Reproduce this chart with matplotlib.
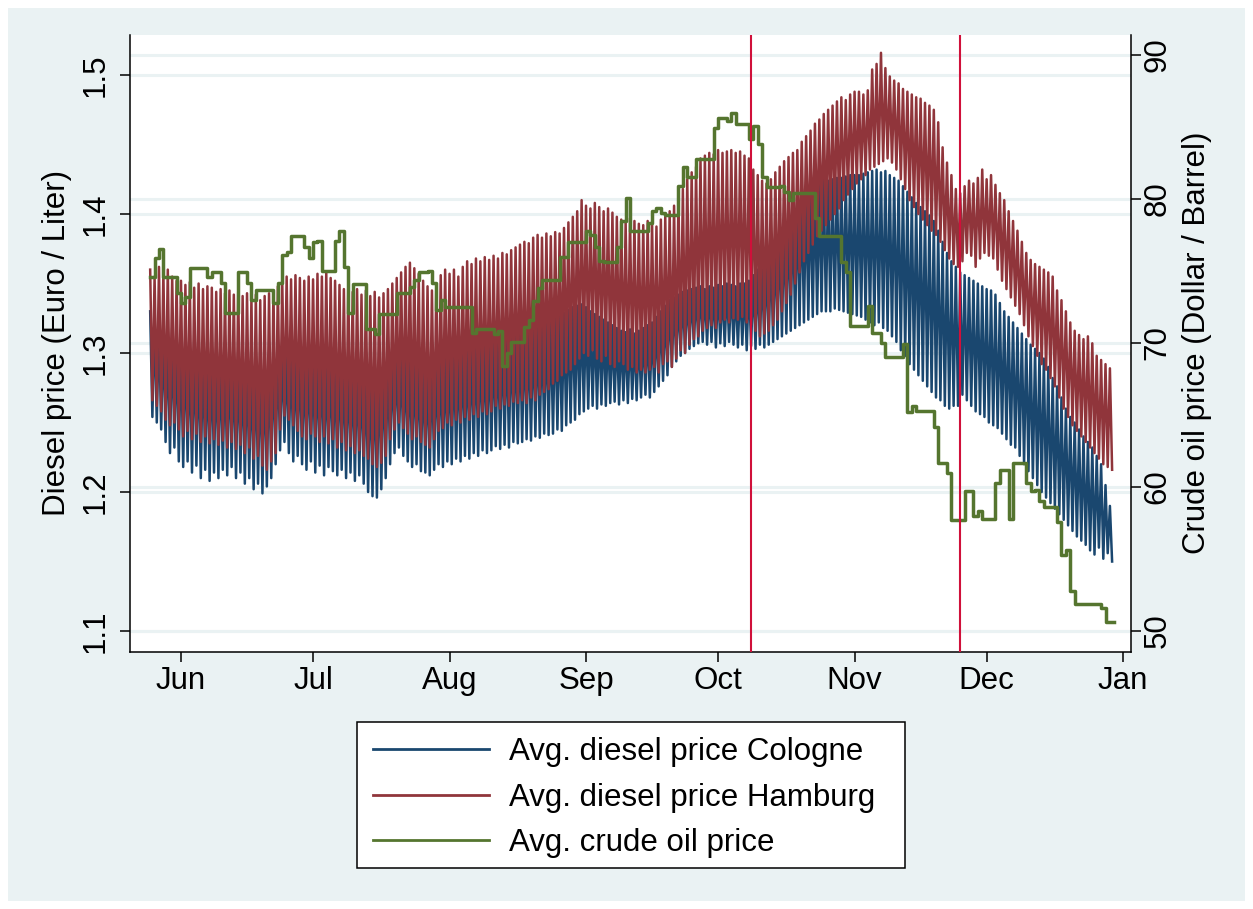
import numpy as np
import matplotlib
matplotlib.use("Agg")
import matplotlib.pyplot as plt
import matplotlib.dates as mdates
import matplotlib.transforms as mtransforms
from matplotlib.patches import Rectangle
from matplotlib.lines import Line2D

plt.rcParams['font.family'] = ['Liberation Sans', 'DejaVu Sans']

# one value per day, first day is 25 May 2018 (7 days per row)
first_day = np.datetime64('2018-05-25T00:00')

hamburg_high = [
    1.360, 1.355, 1.362, 1.358, 1.360, 1.355, 1.352,
    1.352, 1.349, 1.351, 1.347, 1.350, 1.346, 1.348,
    1.347, 1.344, 1.346, 1.343, 1.345, 1.342, 1.344,
    1.341, 1.343, 1.339, 1.342, 1.338, 1.341, 1.343,
    1.345, 1.348, 1.352, 1.355, 1.353, 1.356, 1.354,
    1.352, 1.355, 1.353, 1.357, 1.355, 1.358, 1.354,
    1.352, 1.349, 1.346, 1.348, 1.344, 1.346, 1.342,
    1.345, 1.341, 1.344, 1.340, 1.343, 1.346, 1.350,
    1.354, 1.358, 1.362, 1.365, 1.361, 1.357, 1.352,
    1.348, 1.345, 1.350, 1.356, 1.360, 1.357, 1.360,
    1.355, 1.362, 1.366, 1.364, 1.368, 1.366, 1.369,
    1.367, 1.370, 1.368, 1.372, 1.371, 1.374, 1.376,
    1.378, 1.380, 1.379, 1.383, 1.385, 1.383, 1.386,
    1.384, 1.387, 1.386, 1.390, 1.394, 1.398, 1.402,
    1.410, 1.406, 1.404, 1.408, 1.405, 1.402, 1.404,
    1.401, 1.398, 1.396, 1.394, 1.397, 1.395, 1.393,
    1.392, 1.395, 1.394, 1.391, 1.396, 1.398, 1.402,
    1.406, 1.412, 1.418, 1.425, 1.430, 1.434, 1.440,
    1.442, 1.444, 1.443, 1.446, 1.444, 1.445, 1.446,
    1.444, 1.445, 1.442, 1.440, 1.432, 1.428, 1.424,
    1.422, 1.425, 1.430, 1.434, 1.438, 1.441, 1.444,
    1.446, 1.452, 1.456, 1.460, 1.465, 1.468, 1.472,
    1.475, 1.478, 1.481, 1.484, 1.482, 1.486, 1.488,
    1.488, 1.486, 1.489, 1.504, 1.508, 1.516, 1.505,
    1.499, 1.496, 1.494, 1.490, 1.488, 1.486, 1.484,
    1.483, 1.480, 1.478, 1.475, 1.466, 1.448, 1.437,
    1.428, 1.418, 1.415, 1.420, 1.424, 1.422, 1.426,
    1.432, 1.425, 1.428, 1.421, 1.415, 1.410, 1.402,
    1.395, 1.388, 1.380, 1.372, 1.367, 1.364, 1.362,
    1.360, 1.358, 1.355, 1.345, 1.338, 1.330, 1.322,
    1.316, 1.313, 1.310, 1.312, 1.307, 1.298, 1.295,
    1.292, 1.289,
]
hamburg_low = [
    1.266, 1.262, 1.258, 1.252, 1.248, 1.250, 1.245,
    1.240, 1.244, 1.238, 1.242, 1.236, 1.240, 1.235,
    1.238, 1.234, 1.237, 1.232, 1.236, 1.231, 1.234,
    1.228, 1.232, 1.224, 1.226, 1.219, 1.216, 1.222,
    1.228, 1.245, 1.255, 1.252, 1.248, 1.244, 1.240,
    1.238, 1.242, 1.240, 1.236, 1.240, 1.235, 1.238,
    1.232, 1.236, 1.230, 1.233, 1.228, 1.230, 1.226,
    1.224, 1.220, 1.218, 1.221, 1.226, 1.238, 1.245,
    1.250, 1.246, 1.242, 1.238, 1.240, 1.236, 1.234,
    1.232, 1.238, 1.244, 1.246, 1.250, 1.248, 1.252,
    1.250, 1.254, 1.252, 1.256, 1.254, 1.258, 1.256,
    1.258, 1.262, 1.260, 1.263, 1.262, 1.265, 1.264,
    1.266, 1.264, 1.268, 1.266, 1.270, 1.272, 1.274,
    1.278, 1.280, 1.284, 1.286, 1.288, 1.292, 1.296,
    1.300, 1.298, 1.302, 1.296, 1.294, 1.298, 1.292,
    1.290, 1.294, 1.292, 1.288, 1.290, 1.286, 1.288,
    1.286, 1.288, 1.290, 1.286, 1.292, 1.294, 1.290,
    1.296, 1.302, 1.300, 1.306, 1.310, 1.312, 1.316,
    1.318, 1.320, 1.318, 1.322, 1.324, 1.322, 1.325,
    1.324, 1.326, 1.322, 1.320, 1.316, 1.312, 1.314,
    1.316, 1.320, 1.324, 1.330, 1.336, 1.342, 1.350,
    1.358, 1.366, 1.372, 1.378, 1.384, 1.388, 1.392,
    1.396, 1.400, 1.404, 1.410, 1.414, 1.418, 1.422,
    1.425, 1.428, 1.432, 1.434, 1.436, 1.438, 1.440,
    1.437, 1.432, 1.425, 1.418, 1.410, 1.405, 1.400,
    1.396, 1.392, 1.388, 1.385, 1.380, 1.374, 1.368,
    1.364, 1.362, 1.366, 1.372, 1.370, 1.362, 1.368,
    1.372, 1.370, 1.368, 1.360, 1.352, 1.346, 1.340,
    1.334, 1.328, 1.320, 1.312, 1.305, 1.298, 1.292,
    1.288, 1.282, 1.276, 1.268, 1.260, 1.254, 1.248,
    1.244, 1.240, 1.236, 1.232, 1.228, 1.224, 1.220,
    1.218, 1.216,
]
cologne_high = [
    1.330, 1.325, 1.322, 1.318, 1.315, 1.318, 1.312,
    1.310, 1.312, 1.306, 1.309, 1.304, 1.307, 1.303,
    1.305, 1.302, 1.304, 1.300, 1.303, 1.299, 1.301,
    1.298, 1.300, 1.296, 1.298, 1.294, 1.296, 1.299,
    1.302, 1.306, 1.308, 1.305, 1.307, 1.304, 1.306,
    1.303, 1.306, 1.304, 1.302, 1.305, 1.301, 1.303,
    1.300, 1.302, 1.298, 1.300, 1.296, 1.298, 1.295,
    1.293, 1.290, 1.292, 1.295, 1.298, 1.302, 1.305,
    1.306, 1.304, 1.302, 1.300, 1.301, 1.298, 1.297,
    1.296, 1.299, 1.302, 1.304, 1.306, 1.305, 1.308,
    1.307, 1.310, 1.309, 1.312, 1.311, 1.314, 1.313,
    1.314, 1.316, 1.315, 1.318, 1.317, 1.320, 1.319,
    1.320, 1.322, 1.321, 1.323, 1.325, 1.324, 1.326,
    1.325, 1.327, 1.326, 1.329, 1.331, 1.333, 1.334,
    1.335, 1.333, 1.330, 1.328, 1.326, 1.324, 1.322,
    1.320, 1.318, 1.316, 1.315, 1.317, 1.314, 1.316,
    1.318, 1.320, 1.322, 1.326, 1.330, 1.334, 1.338,
    1.340, 1.342, 1.344, 1.345, 1.346, 1.347, 1.348,
    1.346, 1.348, 1.347, 1.349, 1.348, 1.350, 1.349,
    1.348, 1.350, 1.350, 1.352, 1.356, 1.360, 1.366,
    1.372, 1.378, 1.385, 1.392, 1.398, 1.404, 1.410,
    1.415, 1.418, 1.420, 1.422, 1.423, 1.424, 1.425,
    1.424, 1.425, 1.426, 1.426, 1.427, 1.428, 1.428,
    1.428, 1.429, 1.430, 1.431, 1.432, 1.430, 1.431,
    1.428, 1.426, 1.424, 1.420, 1.416, 1.412, 1.408,
    1.405, 1.402, 1.399, 1.395, 1.388, 1.380, 1.372,
    1.366, 1.362, 1.358, 1.356, 1.354, 1.352, 1.350,
    1.348, 1.346, 1.345, 1.342, 1.336, 1.330, 1.326,
    1.322, 1.318, 1.314, 1.310, 1.306, 1.303, 1.300,
    1.296, 1.290, 1.282, 1.276, 1.268, 1.260, 1.254,
    1.250, 1.245, 1.240, 1.236, 1.232, 1.226, 1.220,
    1.205, 1.190,
]
cologne_low = [
    1.254, 1.250, 1.245, 1.236, 1.228, 1.232, 1.222,
    1.218, 1.222, 1.214, 1.219, 1.210, 1.216, 1.208,
    1.214, 1.210, 1.216, 1.212, 1.218, 1.210, 1.214,
    1.206, 1.210, 1.202, 1.206, 1.199, 1.204, 1.210,
    1.220, 1.230, 1.236, 1.228, 1.222, 1.226, 1.220,
    1.216, 1.222, 1.214, 1.219, 1.212, 1.218, 1.215,
    1.212, 1.216, 1.210, 1.214, 1.208, 1.212, 1.206,
    1.200, 1.197, 1.196, 1.202, 1.210, 1.220, 1.228,
    1.232, 1.226, 1.222, 1.218, 1.220, 1.215, 1.214,
    1.212, 1.216, 1.220, 1.218, 1.222, 1.220, 1.224,
    1.222, 1.226, 1.224, 1.228, 1.226, 1.230, 1.228,
    1.230, 1.233, 1.231, 1.234, 1.232, 1.236, 1.235,
    1.236, 1.238, 1.237, 1.240, 1.239, 1.242, 1.241,
    1.242, 1.245, 1.244, 1.248, 1.250, 1.252, 1.256,
    1.258, 1.260, 1.262, 1.260, 1.263, 1.262, 1.264,
    1.265, 1.263, 1.266, 1.264, 1.267, 1.266, 1.268,
    1.270, 1.268, 1.272, 1.276, 1.280, 1.284, 1.290,
    1.294, 1.298, 1.300, 1.303, 1.305, 1.307, 1.308,
    1.306, 1.308, 1.304, 1.307, 1.305, 1.308, 1.306,
    1.304, 1.306, 1.302, 1.305, 1.303, 1.306, 1.304,
    1.306, 1.308, 1.310, 1.312, 1.314, 1.316, 1.318,
    1.320, 1.322, 1.324, 1.326, 1.328, 1.330, 1.330,
    1.330, 1.332, 1.331, 1.330, 1.329, 1.328, 1.327,
    1.326, 1.324, 1.322, 1.320, 1.322, 1.318, 1.316,
    1.312, 1.308, 1.302, 1.298, 1.292, 1.288, 1.284,
    1.280, 1.276, 1.272, 1.268, 1.266, 1.262, 1.260,
    1.262, 1.262, 1.270, 1.266, 1.262, 1.258, 1.256,
    1.254, 1.250, 1.248, 1.246, 1.242, 1.238, 1.234,
    1.232, 1.226, 1.220, 1.215, 1.210, 1.205, 1.200,
    1.196, 1.192, 1.188, 1.184, 1.180, 1.176, 1.172,
    1.168, 1.165, 1.162, 1.158, 1.155, 1.160, 1.152,
    1.156, 1.150,
]
crude_oil = [
    74.6, 75.9, 76.5, 74.6, 74.6, 74.6, 73.5,
    72.8, 73.2, 75.2, 75.2, 75.2, 75.2, 74.6,
    74.9, 74.9, 74.2, 72.1, 72.1, 72.1, 74.9,
    74.9, 74.2, 73.0, 73.7, 73.7, 73.7, 73.7,
    72.8, 74.2, 76.1, 76.3, 77.4, 77.4, 77.4,
    76.7, 75.9, 77.0, 77.1, 75.0, 75.0, 75.0,
    77.1, 77.8, 75.3, 72.1, 74.1, 74.1, 74.1,
    71.0, 71.0, 70.6, 72.0, 72.0, 72.0, 72.0,
    73.5, 73.5, 73.5, 73.9, 74.4, 74.9, 74.9,
    75.0, 74.2, 72.3, 73.0, 72.5, 72.5, 72.5,
    72.5, 72.5, 72.5, 70.7, 71.0, 71.0, 71.0,
    71.0, 70.6, 70.8, 68.4, 69.3, 70.1, 70.1,
    70.1, 71.1, 71.6, 72.9, 73.8, 74.4, 74.4,
    74.4, 74.4, 76.0, 76.0, 77.0, 77.0, 77.0,
    77.0, 77.8, 77.5, 76.7, 75.7, 75.6, 75.6,
    75.6, 76.7, 78.5, 80.1, 77.8, 77.8, 77.8,
    77.8, 78.3, 79.2, 79.4, 79.0, 78.9, 78.9,
    78.9, 80.9, 82.2, 81.5, 81.5, 82.8, 82.8,
    82.8, 82.8, 84.9, 85.6, 85.6, 85.4, 86.0,
    85.2, 85.2, 85.2, 84.2, 85.1, 83.8, 81.5,
    80.8, 80.8, 80.8, 80.9, 80.5, 79.9, 80.4,
    80.4, 80.4, 80.4, 80.4, 78.7, 77.4, 77.4,
    77.4, 77.4, 77.4, 75.6, 74.9, 71.2, 71.2,
    71.2, 71.2, 72.6, 70.7, 70.7, 70.0, 69.0,
    69.0, 69.0, 69.0, 69.9, 65.2, 65.6, 65.3,
    65.3, 65.3, 65.3, 64.2, 61.7, 61.7, 61.0,
    57.7, 57.7, 57.7, 59.7, 59.7, 58.0, 58.3,
    57.8, 57.8, 57.8, 60.3, 61.2, 61.2, 57.8,
    61.7, 61.7, 61.7, 60.3, 59.7, 59.8, 59.0,
    58.6, 58.6, 58.6, 57.6, 55.3, 55.6, 52.8,
    51.9, 51.9, 51.9, 51.9, 51.9, 51.9, 51.6,
    50.6, 50.6,
]

event_dates = [np.datetime64('2018-10-08T12:00'), np.datetime64('2018-11-25T00:00')]

left_ticks = [1.1, 1.2, 1.3, 1.4, 1.5]
left_labels = ['1.1', '1.2', '1.3', '1.4', '1.5']
right_ticks = [50, 60, 70, 80, 90]
right_labels = ['50', '60', '70', '80', '90']

series_names = ['Avg. diesel price Cologne', 'Avg. diesel price Hamburg', 'Avg. crude oil price']

# stata s2color look
navy = '#1a476f'
maroon = '#90353b'
forest = '#55752f'
event_red = '#d0103a'
bg = '#eaf2f3'
fs = 22.5


def to_dates(days):
    return first_day + (np.asarray(days) * 1440).round().astype('timedelta64[m]')


def zigzag(high, low):
    # daily peak at start of day, daily low half a day later
    n = len(high)
    t = np.empty(2 * n)
    t[0::2] = np.arange(n)
    t[1::2] = np.arange(n) + 0.5
    y = np.empty(2 * n)
    y[0::2] = high
    y[1::2] = low
    return to_dates(t), y


W, H = 1253, 909
fig = plt.figure(figsize=(W / 100, H / 100), dpi=100, facecolor='white')
fig.add_artist(Rectangle((8 / W, 8 / H), 1 - 16 / W, 1 - 16 / H, transform=fig.transFigure,
                         facecolor=bg, edgecolor='none', zorder=-10))

ax = fig.add_axes([130 / W, 1 - 652 / H, (1131 - 130) / W, (652 - 35) / H])
ax.set_facecolor('white')
ax2 = ax.twinx()

ax.set_ylim(1.0849, 1.5288)
ax2.set_ylim(48.54, 91.39)
ax.set_xlim(np.datetime64('2018-05-20T10:00'), np.datetime64('2019-01-02T19:00'))

# grid lines of both axes, under the data
for v in left_ticks:
    ax.axhline(v, color=bg, lw=2.2, zorder=0.5)
trans = mtransforms.blended_transform_factory(ax.transAxes, ax2.transData)
for v in right_ticks:
    ax.plot([0, 1], [v, v], transform=trans, color=bg, lw=2.2, zorder=0.5)

xc, yc = zigzag(cologne_high, cologne_low)
ax.plot(xc, yc, color=navy, lw=1.8, zorder=2)
xh, yh = zigzag(hamburg_high, hamburg_low)
ax.plot(xh, yh, color=maroon, lw=1.8, zorder=3)

oil_x = to_dates(np.arange(len(crude_oil) + 1))
oil_y = list(crude_oil) + [crude_oil[-1]]
ax2.plot(oil_x, oil_y, drawstyle='steps-post', color=forest, lw=2.5, zorder=3)
for d in event_dates:
    ax2.axvline(d, color=event_red, lw=1.5, zorder=4)

# axes, ticks
for s in ['top', 'right']:
    ax.spines[s].set_visible(False)
for s in ['top', 'left', 'bottom']:
    ax2.spines[s].set_visible(False)
for s in ['left', 'bottom']:
    ax.spines[s].set_linewidth(1.1)
ax2.spines['right'].set_linewidth(1.1)

ax.xaxis.set_major_locator(mdates.MonthLocator())
ax.xaxis.set_major_formatter(mdates.DateFormatter('%b'))
ax.tick_params(axis='x', length=7.2, width=1.1, pad=3, labelsize=fs)

ax.set_yticks(left_ticks)
ax.set_yticklabels(left_labels, rotation=90, va='center')
ax.tick_params(axis='y', length=7.2, width=1.1, pad=6.5, labelsize=fs)

ax2.set_yticks(right_ticks)
ax2.set_yticklabels(right_labels, rotation=90, va='center')
ax2.tick_params(axis='y', length=7.2, width=1.1, pad=1, labelsize=fs)

fig.text(57 / W, 1 - 343 / H, 'Diesel price (Euro / Liter)', rotation=90,
         ha='center', va='center', fontsize=fs)
fig.text(1197 / W, 1 - 343 / H, 'Crude oil price (Dollar / Barrel)', rotation=90,
         ha='center', va='center', fontsize=fs)

# legend box drawn by hand (stata leaves extra room on the right)
fig.add_artist(Rectangle((357 / W, 1 - 868 / H), (905 - 357) / W, (868 - 722) / H,
                         transform=fig.transFigure, facecolor='white', edgecolor='black',
                         lw=1.1, zorder=5))
handles = [Line2D([], [], color=c, lw=2.0) for c in (navy, maroon, forest)]
leg = fig.legend(handles, series_names, loc='upper left', bbox_to_anchor=(359 / W, 1 - 723 / H),
                 fontsize=fs, frameon=False, handlelength=3.7, handletextpad=0.65,
                 labelspacing=0.5, borderpad=0.45, borderaxespad=0)
leg.set_zorder(6)

fig.savefig('out.png', dpi=100, facecolor='white')
